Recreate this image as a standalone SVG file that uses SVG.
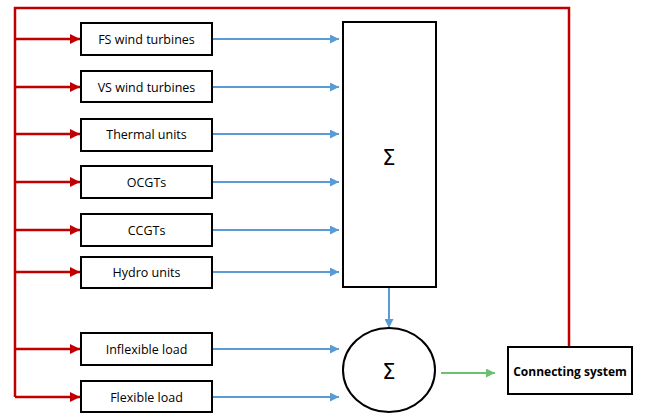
<svg xmlns="http://www.w3.org/2000/svg" width="646" height="413" viewBox="0 0 646 413">
<style>
.box{fill:#fff;stroke:#000;stroke-width:2}
.lbl{font-family:"Open Sans","Liberation Sans",sans-serif;font-size:12.5px;fill:#000;text-anchor:middle;dominant-baseline:central}
.bold{font-weight:bold;font-size:12px}
.red{stroke:#c00000;stroke-width:2.5;fill:none}
.blue{stroke:#5b9bd5;stroke-width:2;fill:none}
.green{stroke:#6cc070;stroke-width:2;fill:none}
.sig{font-family:"DejaVu Sans","Liberation Sans",sans-serif;font-size:21px;fill:#000;text-anchor:middle;dominant-baseline:central}
</style>
<defs>
<marker id="ar" viewBox="0 0 10 10" refX="10" refY="5" markerWidth="4" markerHeight="4" orient="auto" markerUnits="strokeWidth"><path d="M0,0L10,5L0,10z" fill="#c00000"/></marker>
<marker id="ab" viewBox="0 0 10 10" refX="10" refY="5" markerWidth="4.5" markerHeight="4.5" orient="auto" markerUnits="strokeWidth"><path d="M0,0L10,5L0,10z" fill="#5b9bd5"/></marker>
<marker id="ag" viewBox="0 0 10 10" refX="10" refY="5" markerWidth="4.5" markerHeight="4.5" orient="auto" markerUnits="strokeWidth"><path d="M0,0L10,5L0,10z" fill="#6cc070"/></marker>
</defs>
<rect width="646" height="413" fill="#fff"/>
<g id="connectors">
<path class="red" d="M569,348V8H15V397"/>
<path class="red" marker-end="url(#ar)" d="M15,39H80"/>
<path class="red" marker-end="url(#ar)" d="M15,87H80"/>
<path class="red" marker-end="url(#ar)" d="M15,134H80"/>
<path class="red" marker-end="url(#ar)" d="M15,182H80"/>
<path class="red" marker-end="url(#ar)" d="M15,230H80"/>
<path class="red" marker-end="url(#ar)" d="M15,272H80"/>
<path class="red" marker-end="url(#ar)" d="M15,349H80"/>
<path class="red" marker-end="url(#ar)" d="M15,397H80"/>
<path class="blue" marker-end="url(#ab)" d="M212,39H339"/>
<path class="blue" marker-end="url(#ab)" d="M212,87H339"/>
<path class="blue" marker-end="url(#ab)" d="M212,134H339"/>
<path class="blue" marker-end="url(#ab)" d="M212,182H339"/>
<path class="blue" marker-end="url(#ab)" d="M212,230H339"/>
<path class="blue" marker-end="url(#ab)" d="M212,272H339"/>
<path class="blue" marker-end="url(#ab)" d="M212,349H339"/>
<path class="blue" marker-end="url(#ab)" d="M212,397H339"/>
<path class="blue" marker-end="url(#ab)" d="M389,287V328"/>
<path class="green" marker-end="url(#ag)" d="M441,373H495"/>
</g>
<g id="fs"><rect class="box" x="81" y="23" width="131" height="32"/><text class="lbl" x="146.5" y="39">FS wind turbines</text></g>
<g id="vs"><rect class="box" x="81" y="71" width="131" height="31"/><text class="lbl" x="146.5" y="87">VS wind turbines</text></g>
<g id="thermal"><rect class="box" x="81" y="119" width="131" height="32"/><text class="lbl" x="146.5" y="134">Thermal units</text></g>
<g id="ocgt"><rect class="box" x="81" y="166" width="131" height="32"/><text class="lbl" x="146.5" y="182">OCGTs</text></g>
<g id="ccgt"><rect class="box" x="81" y="214" width="131" height="32"/><text class="lbl" x="146.5" y="230">CCGTs</text></g>
<g id="hydro"><rect class="box" x="81" y="257" width="131" height="31"/><text class="lbl" x="146.5" y="272">Hydro units</text></g>
<g id="inflex"><rect class="box" x="81" y="333" width="131" height="32"/><text class="lbl" x="146.5" y="349">Inflexible load</text></g>
<g id="flex"><rect class="box" x="81" y="381" width="131" height="31"/><text class="lbl" x="146.5" y="397">Flexible load</text></g>
<g id="sum1"><rect class="box" x="343" y="22" width="93" height="265"/><text class="sig" x="389" y="158">Σ</text></g>
<g id="sum2"><ellipse class="box" cx="389" cy="370" rx="46" ry="42"/><text class="sig" x="389" y="372">Σ</text></g>
<g id="conn"><rect class="box" x="508" y="347" width="124" height="47"/><text class="lbl bold" x="570" y="371">Connecting system</text></g>
</svg>
